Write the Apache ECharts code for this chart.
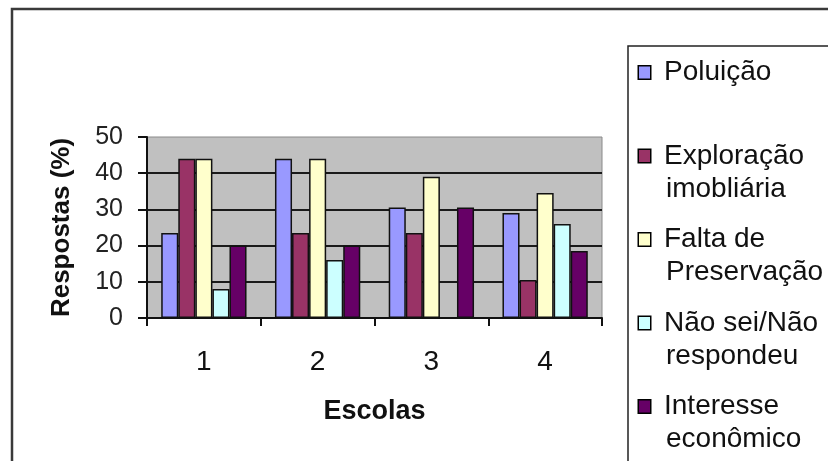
<!DOCTYPE html>
<html>
<head>
<meta charset="utf-8">
<script src="https://cdn.jsdelivr.net/npm/echarts@6/dist/echarts.min.js"></script>
<style>
  html, body { margin: 0; padding: 0; background: #ffffff; }
  #chart { width: 828px; height: 461px; }
</style>
</head>
<body>
<div id="chart"></div>
<script>
// Escolas (categorias do eixo X)
const escolas = ['1', '2', '3', '4'];

// Respostas (%) por escola, uma lista por causa apontada
const poluicao = [23.5, 44, 30.5, 29];
const exploracao = [44, 23.5, 23.5, 10.5];
const faltaPreservacao = [44, 44, 39, 34.5];
const naoSei = [8, 16, 0, 26];
const interesse = [20, 20, 30.5, 18.5];

// Nomes das séries e o texto da legenda (quebrado em duas linhas)
const seriesNames = ['Poluição', 'Exploração imobliária', 'Falta de Preservação', 'Não sei/Não respondeu', 'Interesse econômico'];
const legendLabels = ['Poluição', 'Exploração\nimobliária', 'Falta de\nPreservação', 'Não sei/Não\nrespondeu', 'Interesse\neconômico'];

// Marcas do eixo Y
const yTicks = [0, 10, 20, 30, 40, 50];

const seriesData = [poluicao, exploracao, faltaPreservacao, naoSei, interesse];
const colors = ['#9999FF', '#993366', '#FFFFCC', '#CCFFFF', '#660066'];

const FONT = '"Liberation Sans", Arial, sans-serif';

const rich = {
  g: { width: 14 },
  sp: { width: 27 }
};
colors.forEach(function (c, i) {
  rich['m' + i] = {
    width: 11, height: 12,
    backgroundColor: c,
    borderColor: '#000', borderWidth: 1.5
  };
});

const chart = echarts.init(document.getElementById('chart'), null, { renderer: 'canvas' });

chart.setOption({
  animation: false,
  backgroundColor: '#ffffff',
  color: colors,
  graphic: [{
    // moldura externa do gráfico
    type: 'rect',
    z: -10,
    shape: { x: 12, y: 9, width: 1000, height: 1000 },
    style: { fill: 'none', stroke: '#3a3a3a', lineWidth: 2.5 }
  }, {
    // caixa da legenda
    type: 'rect',
    z: -5,
    shape: { x: 628, y: 46, width: 400, height: 600 },
    style: { fill: '#ffffff', stroke: '#222', lineWidth: 1.5 }
  }],
  grid: {
    left: 147, top: 137, width: 455, height: 181,
    show: true,
    backgroundColor: '#C0C0C0',
    borderColor: '#8a8a8a',
    borderWidth: 1
  },
  legend: {
    orient: 'vertical',
    left: 628, top: 46,
    padding: [10, 5, 5, 5],
    itemWidth: 0, itemHeight: 0,
    itemGap: 17.5,
    selectedMode: false,
    data: seriesNames,
    formatter: function (name) {
      const i = seriesNames.indexOf(name);
      const lines = legendLabels[i].split('\n');
      return '{m' + i + '|}{g|}' + lines[0] + '\n{sp|}' + (lines[1] || ' ');
    },
    textStyle: {
      fontFamily: FONT, fontSize: 28, color: '#111', lineHeight: 33,
      rich: rich
    }
  },
  xAxis: {
    type: 'category',
    data: escolas,
    name: 'Escolas',
    nameLocation: 'middle',
    nameGap: 80,
    nameTextStyle: { fontFamily: FONT, fontSize: 27, fontWeight: 'bold', color: '#111' },
    axisLine: { show: true, lineStyle: { color: '#111', width: 2 } },
    axisTick: { show: true, inside: false, length: 8, lineStyle: { color: '#111', width: 2 } },
    axisLabel: { fontFamily: FONT, fontSize: 28, color: '#111', margin: 30 }
  },
  yAxis: {
    type: 'value',
    min: yTicks[0],
    max: yTicks[yTicks.length - 1],
    interval: yTicks[1] - yTicks[0],
    name: 'Respostas (%)',
    nameLocation: 'middle',
    nameGap: 72,
    nameRotate: 90,
    nameTextStyle: { fontFamily: FONT, fontSize: 26, fontWeight: 'bold', color: '#111' },
    axisLine: { show: true, lineStyle: { color: '#111', width: 2 } },
    axisTick: { show: true, inside: false, length: 9, lineStyle: { color: '#111', width: 2 } },
    axisLabel: { fontFamily: FONT, fontSize: 25, color: '#222', margin: 24 },
    splitLine: { show: true, showMaxLine: false, lineStyle: { color: '#1a1a1a', width: 2 } }
  },
  series: seriesData.map(function (d, i) {
    return {
      type: 'bar',
      name: seriesNames[i],
      data: d,
      barGap: '0%',
      barCategoryGap: '25%',
      itemStyle: { color: colors[i], borderColor: '#111', borderWidth: 1.5 }
    };
  })
});
</script>
</body>
</html>
